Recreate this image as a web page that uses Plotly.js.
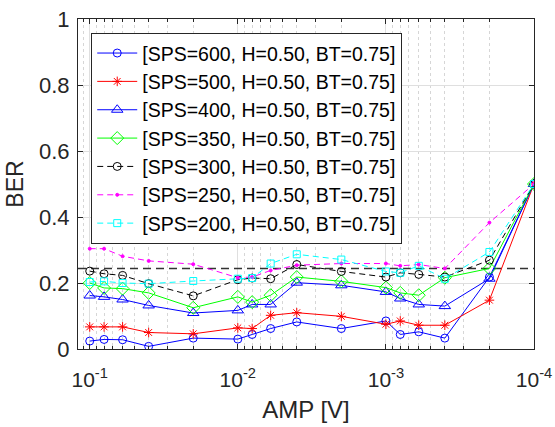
<!DOCTYPE html>
<html>
<head>
<meta charset="utf-8">
<script src="https://cdn.plot.ly/plotly-3.0.1.min.js"></script>
<style>html,body{margin:0;padding:0;background:#fff;}#chart{width:555px;height:427px;}</style>
</head>
<body>
<div id="chart"></div>
<script>
// AMP values [V]
const amp = [0.1, 0.08, 0.06, 0.04, 0.02, 0.01, 0.008, 0.006, 0.004, 0.002, 0.001, 0.0008, 0.0006, 0.0004, 0.0002, 0.0001];

const ber600 = [0.024, 0.029, 0.028, 0.008, 0.033, 0.030, 0.044, 0.062, 0.082, 0.062, 0.085, 0.044, 0.052, 0.033, 0.218, 0.5];
const ber500 = [0.067, 0.067, 0.067, 0.050, 0.046, 0.064, 0.062, 0.102, 0.110, 0.099, 0.075, 0.085, 0.072, 0.072, 0.148, 0.5];
const ber400 = [0.162, 0.158, 0.150, 0.132, 0.109, 0.117, 0.135, 0.135, 0.201, 0.193, 0.173, 0.153, 0.135, 0.130, 0.213, 0.5];
const ber350 = [0.200, 0.185, 0.183, 0.170, 0.125, 0.158, 0.142, 0.163, 0.218, 0.205, 0.186, 0.170, 0.163, 0.216, 0.244, 0.5];
const ber300 = [0.236, 0.228, 0.223, 0.198, 0.161, 0.210, 0.215, 0.213, 0.256, 0.235, 0.218, 0.231, 0.226, 0.218, 0.269, 0.5];
const ber250 = [0.304, 0.304, 0.281, 0.267, 0.257, 0.216, 0.218, 0.238, 0.254, 0.259, 0.259, 0.252, 0.256, 0.244, 0.383, 0.5];
const ber200 = [0.203, 0.205, 0.200, 0.198, 0.206, 0.213, 0.215, 0.259, 0.287, 0.271, 0.235, 0.231, 0.252, 0.213, 0.294, 0.5];

const names = [
  '[SPS=600, H=0.50, BT=0.75]',
  '[SPS=500, H=0.50, BT=0.75]',
  '[SPS=400, H=0.50, BT=0.75]',
  '[SPS=350, H=0.50, BT=0.75]',
  '[SPS=300, H=0.50, BT=0.75]',
  '[SPS=250, H=0.50, BT=0.75]',
  '[SPS=200, H=0.50, BT=0.75]'
];

// reference threshold line
const thresholdBER = 0.244;
const thresholdX = [0.12, 0.0001];

const xTickVals = [0.1, 0.01, 0.001, 0.0001];
const xTickText = ['10<sup>-1</sup>', '10<sup>-2</sup>', '10<sup>-3</sup>', '10<sup>-4</sup>'];
const yTickVals = [0, 0.2, 0.4, 0.6, 0.8, 1];
const yTickText = ['0', '0.2', '0.4', '0.6', '0.8', '1'];

const minorVals = [];
for (const d of [0.0001, 0.001, 0.01]) {
  for (let k = 2; k <= 9; k++) minorVals.push(k * d);
}
minorVals.push(0.11, 0.12);

const series = [
  {y: ber600, color: '#0000FF', symbol: 'circle-open', size: 8, dash: 'solid'},
  {y: ber500, color: '#FF0000', symbol: 'asterisk-open', size: 8, dash: 'solid'},
  {y: ber400, color: '#0000FF', symbol: 'triangle-up-open', size: 10, dash: 'solid'},
  {y: ber350, color: '#00FF00', symbol: 'diamond-open', size: 10, dash: 'solid'},
  {y: ber300, color: '#000000', symbol: 'circle-open', size: 8, dash: '6px,4px'},
  {y: ber250, color: '#FF00FF', symbol: 'circle', size: 3, dash: '6px,4px'},
  {y: ber200, color: '#00FFFF', symbol: 'square-open', size: 7, dash: '6px,4px'}
];

const traces = [{
  x: thresholdX, y: [thresholdBER, thresholdBER], mode: 'lines', showlegend: false,
  line: {color: '#333333', width: 1.5, dash: '8px,5px'}, hoverinfo: 'skip'
}];
series.forEach((s, i) => {
  traces.push({
    x: amp, y: s.y, name: names[i], mode: 'lines+markers',
    line: {color: s.color, width: 1, dash: s.dash},
    marker: {symbol: s.symbol, size: s.size, color: s.color, line: {color: s.color, width: 1}}
  });
});

const axisColor = '#262626';
const layout = {
  width: 555, height: 427,
  margin: {l: 78, r: 21, t: 19, b: 78},
  paper_bgcolor: '#ffffff', plot_bgcolor: '#ffffff',
  font: {family: 'Liberation Sans, Arial, sans-serif', color: axisColor},
  showlegend: true,
  legend: {
    x: 0.029, y: 0.958, xanchor: 'left', yanchor: 'top',
    bgcolor: '#ffffff', bordercolor: axisColor, borderwidth: 1,
    font: {size: 19.5, color: '#000000'}, tracegroupgap: 0, itemwidth: 40
  },
  xaxis: {
    type: 'log', autorange: false, range: [Math.log10(0.12), -4],
    tickmode: 'array', tickvals: xTickVals, ticktext: xTickText,
    tickfont: {size: 21, color: axisColor}, ticklabelstandoff: 12,
    ticks: 'inside', ticklen: 5, tickcolor: axisColor,
    showline: true, linecolor: axisColor, linewidth: 1, mirror: 'ticks',
    showgrid: true, gridcolor: '#dfdfdf', gridwidth: 1,
    zeroline: false,
    minor: {tickmode: 'array', tickvals: minorVals, ticks: 'inside', ticklen: 3, tickcolor: axisColor,
            showgrid: true, gridcolor: '#d6d6d6', griddash: 'dot', gridwidth: 1},
    title: {text: 'AMP [V]', font: {size: 24, color: axisColor}, standoff: 10}
  },
  yaxis: {
    autorange: false, range: [0, 1],
    tickmode: 'array', tickvals: yTickVals, ticktext: yTickText,
    tickfont: {size: 22, color: axisColor}, ticklabelstandoff: 3,
    ticks: 'inside', ticklen: 5, tickcolor: axisColor,
    showline: true, linecolor: axisColor, linewidth: 1, mirror: 'ticks',
    showgrid: true, gridcolor: '#dfdfdf', gridwidth: 1,
    zeroline: false,
    title: {text: 'BER', font: {size: 23, color: axisColor}, standoff: 8}
  }
};

Plotly.newPlot('chart', traces, layout, {staticPlot: true, displayModeBar: false});
</script>
</body>
</html>
